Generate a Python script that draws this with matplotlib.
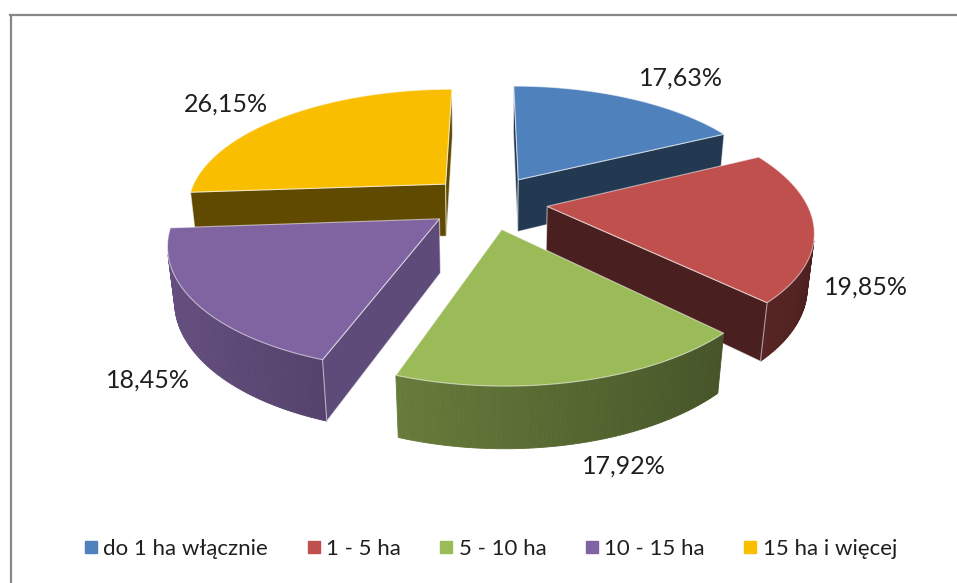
import numpy as np
import matplotlib.pyplot as plt
from matplotlib.patches import Polygon
from matplotlib.lines import Line2D

plt.rcParams['font.family'] = ['Lato', 'DejaVu Sans']

categories = ['do 1 ha włącznie', '1 - 5 ha', '5 - 10 ha', '10 - 15 ha', '15 ha i więcej']
shares = [17.63, 19.85, 17.92, 18.45, 26.15]

top_colors = ['#4F81BD', '#C0504D', '#9BBB59', '#8064A2', '#F9BE00']
side_colors = ['#233851', '#4A1F1F', '#3D4D22', '#5E4B7A', '#604A00']
label_nudge = [(52, -20), (52, 61), (46, 85), (-48, 77), (-59, -12)]

# view of the 3d pie
TILT = np.radians(27)
DIST = 5.0
SCALE = 259
CX, CY = 488, 202
THICK = 0.235
EXPLODE = 0.23
cam = np.array([0.0, DIST * np.sin(TILT), -DIST * np.cos(TILT)])


def project(X, Y, Z):
    X, Y, Z = np.asarray(X, float), np.asarray(Y, float), np.asarray(Z, float)
    v = Y * np.cos(TILT) + Z * np.sin(TILT)
    d = Z * np.cos(TILT) - Y * np.sin(TILT)
    f = DIST / (DIST + d)
    return CX + SCALE * X * f, CY - SCALE * v * f


def facing(px, pz, nx, nz):
    return nx * (cam[0] - px) + nz * (cam[2] - pz) > 0


def shade(color, k):
    r, g, b = plt.matplotlib.colors.to_rgb(color)
    return (r * k, g * k, b * k)


fig = plt.figure(figsize=(9.57, 5.83), dpi=100)
ax = fig.add_axes([0, 0, 1, 1])
ax.set_xlim(0, 957)
ax.set_ylim(583, 0)
ax.axis('off')

fractions = np.array(shares) / sum(shares)
edges = np.concatenate([[0], np.cumsum(fractions)]) * 2 * np.pi

slices = []
for i in range(len(shares)):
    a0, a1 = edges[i], edges[i + 1]
    m = (a0 + a1) / 2
    ox, oz = EXPLODE * np.sin(m), EXPLODE * np.cos(m)
    slices.append((oz + 0.5 * np.cos(m), i, a0, a1, m, ox, oz))
slices.sort(reverse=True)

edge_kw = dict(edgecolor=(1, 1, 1, 0.55), linewidth=0.8)

for _, i, a0, a1, m, ox, oz in slices:
    arc = np.linspace(a0, a1, 80)
    rx, rz = ox + np.sin(arc), oz + np.cos(arc)

    # outer wall, lit from the left
    for k in range(len(arc) - 1):
        am = (arc[k] + arc[k + 1]) / 2
        if not facing(ox + np.sin(am), oz + np.cos(am), np.sin(am), np.cos(am)):
            continue
        xs = [rx[k], rx[k + 1], rx[k + 1], rx[k]]
        zs = [rz[k], rz[k + 1], rz[k + 1], rz[k]]
        ys = [0, 0, -THICK, -THICK]
        px, py = project(xs, ys, zs)
        c = shade(top_colors[i], 0.39 + 0.41 * (1 - np.sin(am)) / 2)
        ax.add_patch(Polygon(np.column_stack([px, py]), closed=True,
                             facecolor=c, edgecolor=c, linewidth=0.6))

    # radial cut faces
    for a, nx, nz in [(a0, -np.cos(a0), np.sin(a0)), (a1, np.cos(a1), -np.sin(a1))]:
        if not facing(ox + 0.5 * np.sin(a), oz + 0.5 * np.cos(a), nx, nz):
            continue
        xs = [ox, ox + np.sin(a), ox + np.sin(a), ox]
        zs = [oz, oz + np.cos(a), oz + np.cos(a), oz]
        ys = [0, 0, -THICK, -THICK]
        px, py = project(xs, ys, zs)
        ax.add_patch(Polygon(np.column_stack([px, py]), closed=True,
                             facecolor=side_colors[i], **edge_kw))

    # top face
    px, py = project(np.r_[ox, rx], np.zeros(len(arc) + 1), np.r_[oz, rz])
    ax.add_patch(Polygon(np.column_stack([px, py]), closed=True,
                         facecolor=top_colors[i], **edge_kw))

# data labels
for i in range(len(shares)):
    a0, a1 = edges[i], edges[i + 1]
    m = (a0 + a1) / 2
    r = 1 + EXPLODE
    lx, ly = project(r * np.sin(m), 0, r * np.cos(m))
    txt = f'{shares[i]:.2f}%'.replace('.', ',')
    ax.text(lx + label_nudge[i][0], ly + label_nudge[i][1], txt,
            ha='center', va='center', fontsize=18, color='#1F1F1F')

handles = [Line2D([], [], marker='s', linestyle='none', markersize=9,
                  markerfacecolor=c, markeredgecolor=c) for c in top_colors]
fig.legend(handles, categories, loc='center', bbox_to_anchor=(0.511, 0.058),
           ncol=5, frameon=False, fontsize=16, handletextpad=0.1,
           columnspacing=1.6, handlelength=0.9, labelcolor='#1F1F1F')

# chart frame (only left and top edges visible)
fig.add_artist(Line2D([10.5 / 957, 10.5 / 957], [0, 1 - 14.5 / 583],
                      transform=fig.transFigure, color='#888888', lw=1.6))
fig.add_artist(Line2D([10 / 957, 1], [1 - 14.5 / 583, 1 - 14.5 / 583],
                      transform=fig.transFigure, color='#888888', lw=1.6))

fig.savefig('out.png', dpi=100)
